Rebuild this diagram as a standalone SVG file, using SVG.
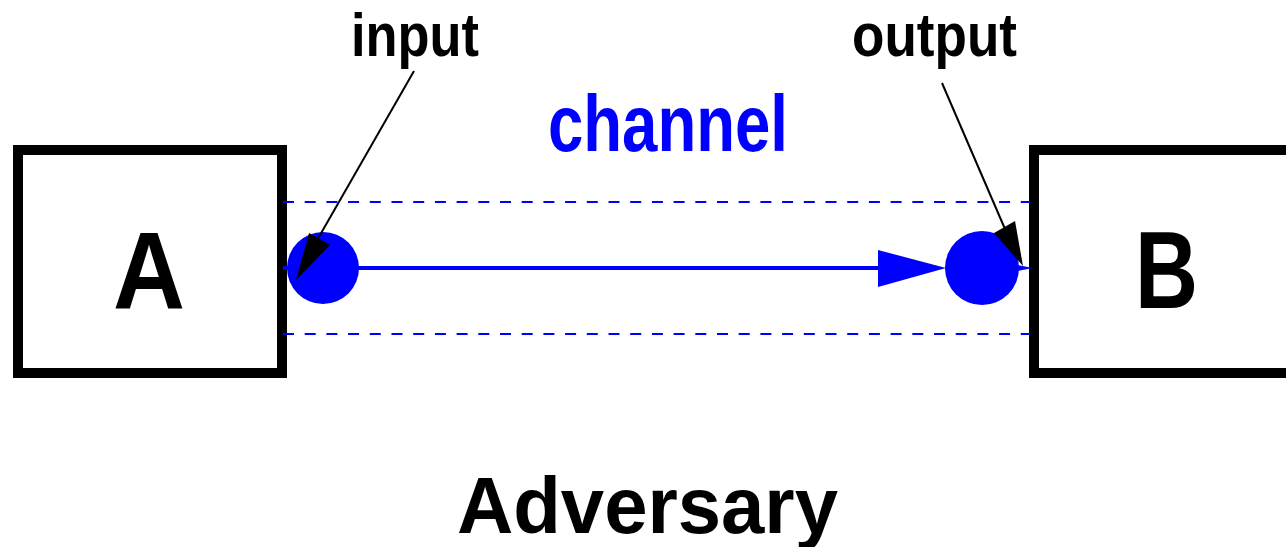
<svg xmlns="http://www.w3.org/2000/svg" width="1286" height="547" viewBox="0 0 1286 547">
  <style>
    .box { fill: #ffffff; stroke: #000000; stroke-width: 10; }
    .lbl { font-family: "Liberation Sans", Arial, sans-serif; font-weight: bold; fill: #000000; }
    .big { font-size: 109px; }
    .dash { stroke: #0000ff; stroke-width: 2; stroke-dasharray: 11 10.7; fill: none; }
    .chan { stroke: #0000ff; stroke-width: 4; fill: none; }
    .ptr { stroke: #000000; stroke-width: 2; fill: none; }
  </style>
  <rect width="1286" height="547" fill="#ffffff"/>

  <g id="node-A">
    <rect class="box" x="18" y="150" width="264" height="223"/>
    <text class="lbl big" x="113" y="308" textLength="72" lengthAdjust="spacingAndGlyphs">A</text>
  </g>

  <g id="node-B">
    <rect class="box" x="1034" y="150" width="264" height="223"/>
    <text class="lbl big" x="1135" y="308" textLength="63" lengthAdjust="spacingAndGlyphs">B</text>
  </g>

  <g id="connectors">
    <!-- channel boundaries -->
    <line class="dash" x1="283" y1="202" x2="1030" y2="202"/>
    <line class="dash" x1="283" y1="334" x2="1030" y2="334"/>
    <!-- channel line with endpoints -->
    <line class="chan" x1="283" y1="268" x2="880" y2="268"/>
    <polygon points="878,250 946,268 878,287" fill="#0000ff"/>
    <circle cx="323" cy="268" r="36" fill="#0000ff"/>
    <circle cx="982" cy="268" r="37" fill="#0000ff"/>
    <polygon points="1015,264.5 1033,268 1015,271.5" fill="#0000ff"/>
    <!-- input pointer -->
    <line class="ptr" x1="414" y1="71" x2="316" y2="242"/>
    <polygon points="296,280 309,233 330,245" fill="#000000"/>
    <!-- output pointer -->
    <line class="ptr" x1="942" y1="83" x2="1005" y2="229"/>
    <polygon points="1023,266 994,233 1015,221" fill="#000000"/>
  </g>

  <g id="labels">
    <text class="lbl" x="351" y="56" font-size="62" textLength="128" lengthAdjust="spacingAndGlyphs">input</text>
    <text class="lbl" x="852" y="56" font-size="62" textLength="165" lengthAdjust="spacingAndGlyphs">output</text>
    <text class="lbl" x="548" y="151" font-size="80" textLength="240" lengthAdjust="spacingAndGlyphs" style="fill:#0000ff">channel</text>
    <text class="lbl" x="457" y="533" font-size="80" textLength="381" lengthAdjust="spacingAndGlyphs">Adversary</text>
  </g>
</svg>
